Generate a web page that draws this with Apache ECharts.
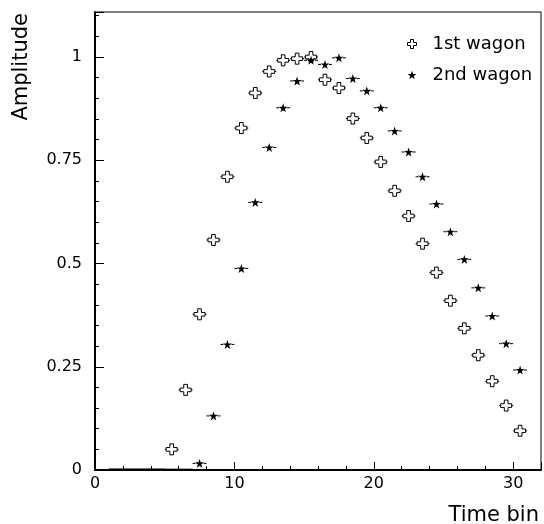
<!DOCTYPE html>
<html>
<head>
<meta charset="utf-8">
<script src="https://cdn.jsdelivr.net/npm/echarts@6/dist/echarts.min.js"></script>
<style>html,body{margin:0;padding:0;background:#fff;}#c{width:544px;height:524px;}</style>
</head>
<body>
<div id="c"></div>
<script>
// Bin centres (time bins)
const timeBins = [1.5, 2.5, 3.5, 4.5, 5.5, 6.5, 7.5, 8.5, 9.5, 10.5, 11.5, 12.5, 13.5, 14.5, 15.5,
  16.5, 17.5, 18.5, 19.5, 20.5, 21.5, 22.5, 23.5, 24.5, 25.5, 26.5, 27.5, 28.5, 29.5, 30.5];
// 1st wagon amplitude
const wagon1 = [0.002, 0.002, 0.002, 0.002, 0.050, 0.194, 0.377, 0.557, 0.710, 0.828, 0.913, 0.965,
  0.992, 0.996, 1.000, 0.945, 0.925, 0.851, 0.804, 0.746, 0.676, 0.615, 0.548, 0.478, 0.410, 0.343,
  0.278, 0.215, 0.156, 0.095];
// 2nd wagon amplitude
const wagon2 = [0.002, 0.002, 0.002, 0.002, 0.002, 0.002, 0.016, 0.131, 0.304, 0.488, 0.648, 0.781,
  0.877, 0.942, 0.992, 0.982, 0.998, 0.948, 0.918, 0.877, 0.821, 0.770, 0.710, 0.644, 0.577, 0.510,
  0.441, 0.373, 0.306, 0.242];
const seriesNames = ['1st wagon', '2nd wagon'];
const xTickLabels = [0, 10, 20, 30];
const yTickLabels = [0, 0.25, 0.5, 0.75, 1];
const binHalfWidth = 0.5;

const FONT = 'DejaVu Sans';
const crossPath = 'path://M4,0 L8,0 L8,4 L12,4 L12,8 L8,8 L8,12 L4,12 L4,8 L0,8 L0,4 L4,4 Z';
const starPath = 'path://M50,0 L61.8,35.1 L98.1,35.1 L68.8,56.7 L79.4,91.4 L50,70.5 L20.6,91.4 L31.2,56.7 L1.9,35.1 L38.2,35.1 Z';

const d1 = timeBins.map((x, i) => [x, wagon1[i]]);
const d2 = timeBins.map((x, i) => [x, wagon2[i]]);
const hidden = v => v < 0.01;

function errBar(gapPx) {
  return function (params, api) {
    const x = api.value(0), y = api.value(1);
    const l = api.coord([x - binHalfWidth, y]);
    const r = api.coord([x + binHalfWidth, y]);
    const c = api.coord([x, y]);
    const g = hidden(y) ? 0 : gapPx;
    const st = { stroke: '#000', lineWidth: 1 };
    return {
      type: 'group', children: [
        { type: 'line', shape: { x1: l[0], y1: l[1], x2: c[0] - g, y2: c[1] }, style: st },
        { type: 'line', shape: { x1: c[0] + g, y1: c[1], x2: r[0], y2: r[1] }, style: st }
      ]
    };
  };
}

const chart = echarts.init(document.getElementById('c'), null, { renderer: 'canvas' });
const isTick = (v, list) => list.some(t => Math.abs(t - v) < 1e-6);

chart.setOption({
  animation: false,
  backgroundColor: '#fff',
  grid: { left: 95, right: 3, top: 12, bottom: 54, show: true, borderColor: '#000', borderWidth: 1, backgroundColor: 'transparent' },
  xAxis: [
    {
      type: 'value', min: 0, max: 32, interval: 2,
      axisLine: { show: true, lineStyle: { color: '#000', width: 2 } },
      axisTick: { show: true, inside: true, length: 4, lineStyle: { color: '#000' } },
      axisLabel: { formatter: v => isTick(v, xTickLabels) ? String(v) : '', fontSize: 16, fontFamily: FONT, color: '#000', margin: 6, showMaxLabel: true },
      splitLine: { show: false }
    },
    {
      type: 'value', min: 0, max: 32, interval: 10, position: 'bottom',
      axisLine: { show: false },
      axisTick: { show: true, inside: true, length: 8, lineStyle: { color: '#000' } },
      axisLabel: { show: false }, splitLine: { show: false }
    }
  ],
  yAxis: [
    {
      type: 'value', min: 0, max: 1.109, interval: 0.05,
      axisLine: { show: true, lineStyle: { color: '#000', width: 2 } },
      axisTick: { show: true, inside: true, length: 4, lineStyle: { color: '#000' } },
      axisLabel: { formatter: v => isTick(v, yTickLabels) ? String(+v.toFixed(2)) : '', fontSize: 16, fontFamily: FONT, color: '#000', margin: 13 },
      splitLine: { show: false }
    },
    {
      type: 'value', min: 0, max: 1.109, interval: 0.25, position: 'left',
      axisLine: { show: false },
      axisTick: { show: true, inside: true, length: 9, lineStyle: { color: '#000' } },
      axisLabel: { show: false }, splitLine: { show: false }
    }
  ],
  legend: {
    orient: 'vertical', left: 407, top: 34, padding: 0, itemGap: 11,
    itemWidth: 9, itemHeight: 9,
    data: [
      { name: seriesNames[0], icon: crossPath, itemStyle: { color: '#fff', borderColor: '#000', borderWidth: 1 } },
      { name: seriesNames[1], icon: starPath, itemStyle: { color: '#000', borderColor: '#000', borderWidth: 0 } }
    ],
    textStyle: { fontSize: 18, fontFamily: FONT, color: '#000', lineHeight: 20, padding: [0, 0, 0, 11] }
  },
  graphic: [
    { type: 'text', x: 11, y: 13, rotation: Math.PI / 2,
      style: { text: 'Amplitude', fontSize: 21, fontFamily: FONT, fill: '#000', align: 'right', verticalAlign: 'top' } },
    { type: 'text', x: 539, y: 526,
      style: { text: 'Time bin', fontSize: 21, fontFamily: FONT, fill: '#000', align: 'right', verticalAlign: 'bottom' } }
  ],
  series: [
    { type: 'custom', name: 'err1', renderItem: errBar(5.5), data: d1, z: 2, silent: true },
    { type: 'custom', name: 'err2', renderItem: errBar(4), data: d2, z: 2, silent: true },
    {
      type: 'scatter', name: seriesNames[0], data: d1, z: 3,
      symbol: crossPath, symbolSize: v => hidden(v[1]) ? 0 : 11,
      itemStyle: { color: '#fff', borderColor: '#000', borderWidth: 1, opacity: 1 }
    },
    {
      type: 'scatter', name: seriesNames[1], data: d2, z: 4,
      symbol: starPath, symbolSize: v => hidden(v[1]) ? 0 : 9,
      itemStyle: { color: '#000', borderColor: '#000', borderWidth: 0, opacity: 1 }
    }
  ]
});
</script>
</body>
</html>
